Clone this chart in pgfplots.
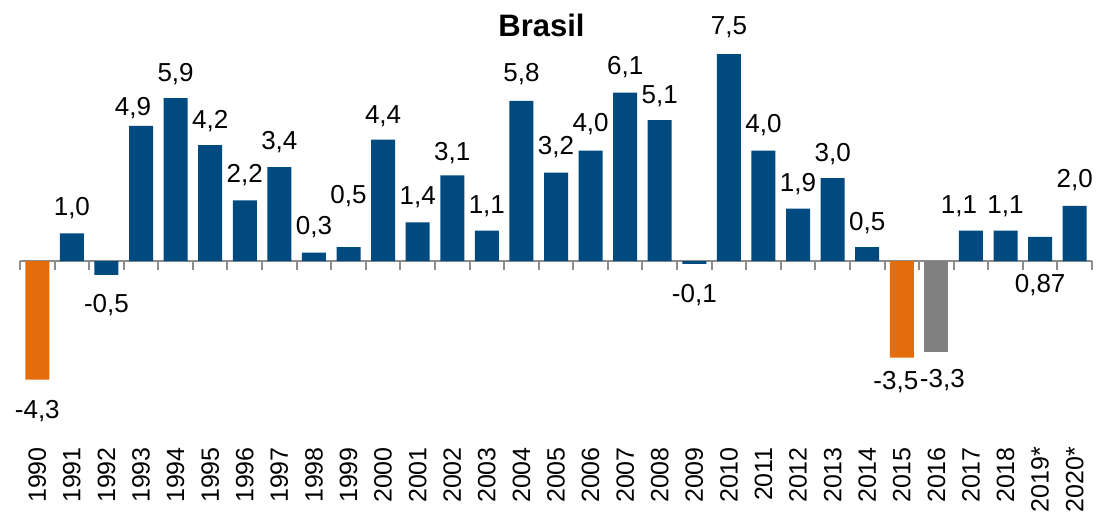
\documentclass[border=0pt]{standalone}
\usepackage{fontspec}
\setmainfont{Liberation Sans}
\usepackage{pgfplots}
\usepackage{pgfplotstable}
\pgfplotsset{compat=1.18}

\definecolor{pibblue}{HTML}{004A80}
\definecolor{piborange}{HTML}{E46C0A}
\definecolor{pibgray}{HTML}{808080}
\definecolor{axisgray}{HTML}{8C8C8C}

% label offsets dx, dy in pt (label baseline relative to bar end)
\pgfplotstableread{
x  y     lab   dx   dy
0  -4.3  -4,3   0  -39
1  1.0   1,0    0   18
2  -0.5  -0,5   0  -38
3  4.9   4,9   -8   10
4  5.9   5,9    0   17
5  4.2   4,2    0   17
6  2.2   2,2    0   18
7  3.4   3,4    0   18
8  0.3   0,3    0   18
9  0.5   0,5    0   44
10 4.4   4,4    0   16
11 1.4   1,4    0   18
12 3.1   3,1    0   15
13 1.1   1,1    0   17
14 5.8   5,8    0   19
15 3.2   3,2    0   18
16 4.0   4,0    0   19
17 6.1   6,1    0   18
18 5.1   5,1    0   17
19 -0.1  -0,1   0  -39
20 7.5   7,5    0   20
21 4.0   4,0    0   18
22 1.9   1,9    0   17
23 3.0   3,0    0   17
24 0.5   0,5    0   17
25 -3.5  -3,5  -6  -32
26 -3.3  -3,3   6  -35
27 1.1   1,1  -12   17
28 1.1   1,1    0   17
29 0.87  0,87   0  -56
30 2.0   2,0    0   18
}\pib

\begin{document}
\begin{tikzpicture}
\begin{axis}[
    scale only axis,
    width=1072pt, height=372.6pt,
    xmin=-0.5, xmax=30.5, ymin=-5, ymax=8.5,
    axis x line=middle, axis y line=none,
    x axis line style={draw=axisgray, line width=2pt, -},
    xtick={0,...,30},
    xticklabels={1990,1991,1992,1993,1994,1995,1996,1997,1998,1999,2000,2001,2002,2003,2004,2005,2006,2007,2008,2009,2010,2011,2012,2013,2014,2015,2016,2017,2018,2019*,2020*},
    minor xtick={-0.5,0.5,...,30.5},
    major tick length=0pt, minor tick length=9pt, tick align=outside,
    every minor tick/.append style={draw=axisgray, line width=2pt},
    xticklabel style={rotate=90, anchor=east, inner sep=0pt, font=\fontsize{25}{25}\selectfont},
    xticklabel shift=186pt,
    ytick=\empty,
    clip=false,
    ybar, bar width=24pt,
]
\addplot[fill=pibblue, draw=none, bar shift=0pt] coordinates {
    (1,1.0) (2,-0.5) (3,4.9) (4,5.9) (5,4.2) (6,2.2) (7,3.4) (8,0.3) (9,0.5)
    (10,4.4) (11,1.4) (12,3.1) (13,1.1) (14,5.8) (15,3.2) (16,4.0) (17,6.1)
    (18,5.1) (19,-0.1) (20,7.5) (21,4.0) (22,1.9) (23,3.0) (24,0.5)
    (27,1.1) (28,1.1) (29,0.87) (30,2.0)};
\addplot[fill=piborange, draw=none, bar shift=0pt] coordinates {(0,-4.3) (25,-3.5)};
\addplot[fill=pibgray, draw=none, bar shift=0pt] coordinates {(26,-3.3)};
\addplot[draw=none, no marks, sharp plot,
    point meta=explicit symbolic,
    visualization depends on={\thisrow{dx} \as \dx},
    visualization depends on={\thisrow{dy} \as \dy},
    nodes near coords,
    every node near coord/.style={anchor=base, inner sep=0pt,
        xshift=\dx pt, yshift=\dy pt, text=black,
        font=\fontsize{26}{26}\selectfont},
] table[x=x, y=y, meta=lab] {\pib};
\node[anchor=base, inner sep=0pt, font=\bfseries\fontsize{31}{31}\selectfont]
    at (axis cs:14.58,8.12) {Brasil};
\end{axis}
\pgfresetboundingbox
\path[use as bounding box] ([shift={(-20pt,-113pt)}]current axis.south west)
    rectangle ([shift={(5pt,26.4pt)}]current axis.north east);
\end{tikzpicture}
\end{document}
